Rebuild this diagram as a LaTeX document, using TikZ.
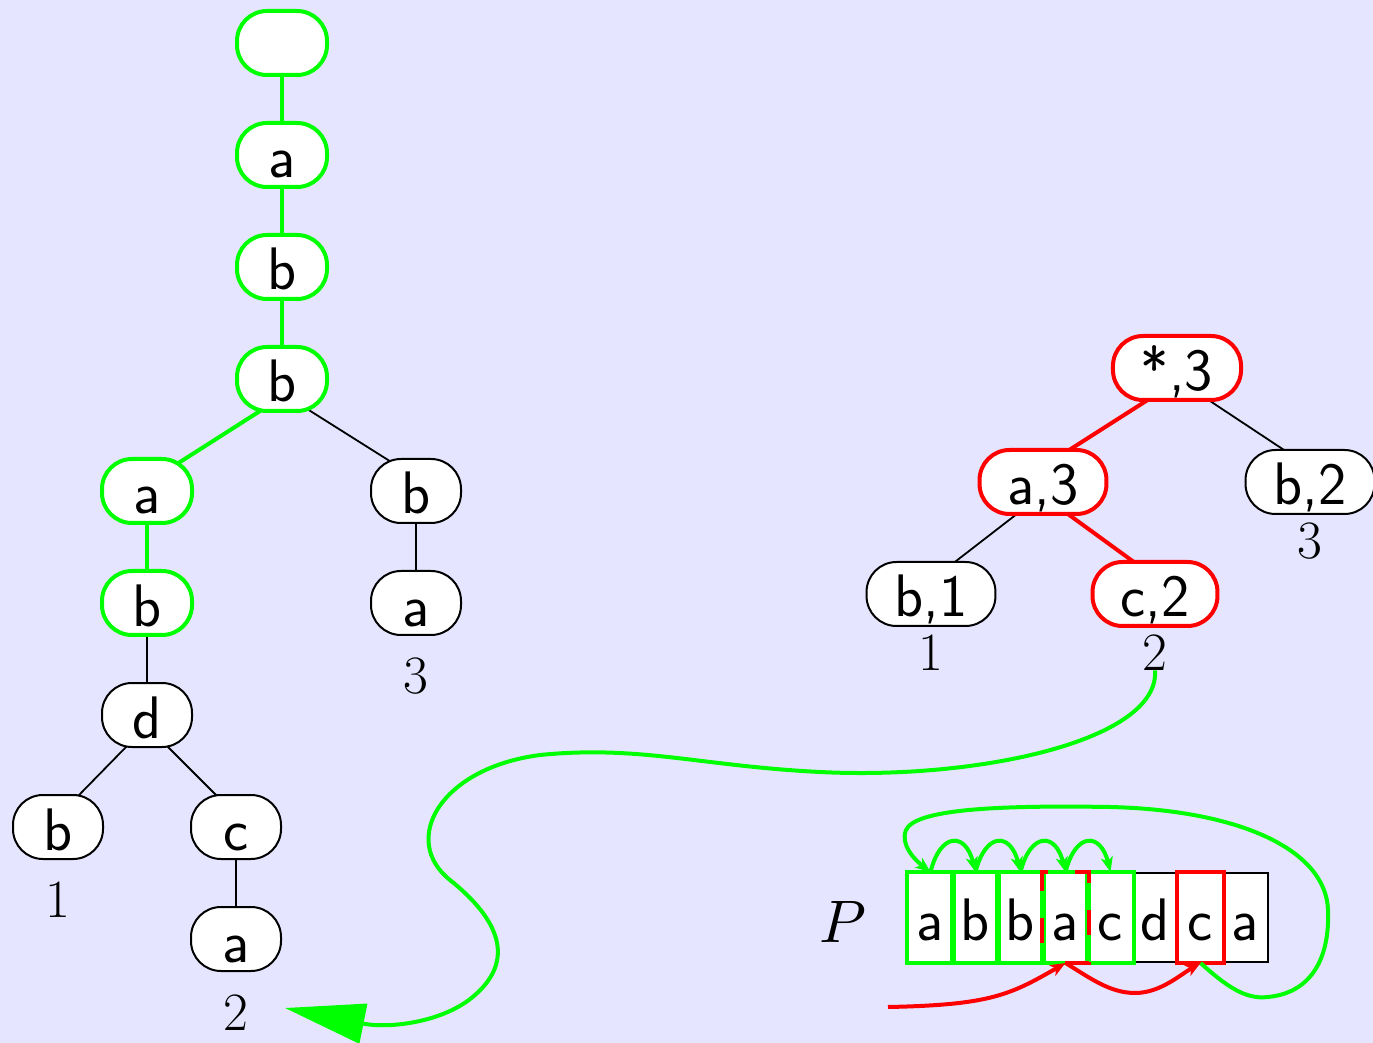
\documentclass[tikz,border=0pt]{standalone}
\usetikzlibrary{arrows.meta,calc}
\definecolor{bgc}{RGB}{229,229,255}
\definecolor{gr}{RGB}{0,255,0}
\definecolor{rd}{RGB}{255,0,0}
\pgfdeclarelayer{bgl}
\pgfdeclarelayer{edg}
\pgfsetlayers{bgl,edg,main}
\tikzset{
  tn/.style={draw=black, line width=1pt, fill=white, rectangle, rounded corners=15pt,
    minimum width=45pt, minimum height=32pt, inner xsep=14pt, inner ysep=0pt,
    text height=23pt, text depth=0pt, font=\sffamily\fontsize{30}{36}\selectfont},
  gn/.style={tn, draw=gr, line width=2pt},
  rn/.style={tn, draw=rd, line width=2pt},
  lab/.style={anchor=base, inner sep=0pt, font=\rmfamily\fontsize{27}{32}\selectfont},
  cell/.style={draw=black, line width=1pt, fill=white, minimum width=22.5pt,
    minimum height=44.5pt, inner sep=0pt, text height=23pt, text depth=0pt,
    font=\sffamily\fontsize{30}{36}\selectfont},
  bedge/.style={draw=black, line width=0.9pt},
  gedge/.style={draw=gr, line width=2pt},
  redge/.style={draw=rd, line width=2pt},
  sarr/.style={-{Stealth[length=7.5pt,width=6pt,inset=2pt]}},
}
\begin{document}
\begin{tikzpicture}[x=0.5pt,y=-0.5pt]
\begin{pgfonlayer}{bgl}
\fill[bgc] (0,0) rectangle (1373,1043);
\end{pgfonlayer}
\useasboundingbox (0,0) rectangle (1373,1043);

% left tree
\node[gn] (r)  at (282,43)  {};
\node[gn] (a1) at (282,155) {a};
\node[gn] (b1) at (282,267) {b};
\node[gn] (b2) at (282,379) {b};
\node[gn] (a2) at (147,491) {a};
\node[tn] (br) at (416,491) {b};
\node[gn] (b3) at (147,603) {b};
\node[tn] (ar) at (416,603) {a};
\node[tn] (d)  at (147,715) {d};
\node[tn] (lb) at (58,827)  {b};
\node[tn] (c)  at (236,827) {c};
\node[tn] (ca) at (236,939) {a};
\node[lab] (l3) at (416,693)  {3};
\node[lab] (l1) at (58,917)   {1};
\node[lab] (l2) at (236,1030) {2};

% right tree
\node[rn] (s3)  at (1177,368) {*,3};
\node[rn] (a3)  at (1043,482) {a,3};
\node[tn] (b2r) at (1310,482) {b,2};
\node[tn] (b1r) at (931,594)  {b,1};
\node[rn] (c2)  at (1155,594) {c,2};
\node[lab] (rl3) at (1310,559) {3};
\node[lab] (rl1) at (931,670)  {1};
\node[lab] (rl2) at (1155,670) {2};

\begin{pgfonlayer}{edg}
\draw[gedge] (r) -- (a1);
\draw[gedge] (a1) -- (b1);
\draw[gedge] (b1) -- (b2);
\draw[gedge] ($(b2)+(-16.6,28.6)$) -- ($(a2)+(24.6,-23.6)$);
\draw[gedge] (a2) -- (b3);
\draw[bedge] ($(b2)+(21.5,27.7)$) -- ($(br)+(-19.5,-25.7)$);
\draw[bedge] (br) -- (ar);
\draw[bedge] (b3) -- (d);
\draw[bedge] ($(d)+(-15,25.9)$) -- ($(lb)+(15,-25.8)$);
\draw[bedge] ($(d)+(14.9,25.9)$) -- ($(c)+(-13.9,-25.9)$);
\draw[bedge] (c) -- (ca);
\draw[redge] ($(s3)+(-25.6,29.6)$) -- ($(a3)+(25.6,-31.6)$);
\draw[bedge] ($(s3)+(27.7,29.5)$) -- ($(b2r)+(-23.7,-30.5)$);
\draw[bedge] ($(a3)+(-22.1,28.9)$) -- ($(b1r)+(21.1,-29.9)$);
\draw[redge] ($(a3)+(20.9,29.1)$) -- ($(c2)+(-19.9,-31.1)$);
\end{pgfonlayer}

% pattern P
\node[anchor=base, inner sep=0pt, scale=3] (P) at (843,942) {$P$};
\foreach \t [count=\i] in {a,b,b,a,c,d,c,a}
  \node[cell] (p\i) at ({930.5+45*(\i-1)},917.5) {\t};
\foreach \i in {1,...,5}
  \draw[gr, line width=2pt] (p\i.south west) rectangle (p\i.north east);
\draw[rd, line width=2pt] (p7.south west) rectangle (p7.north east);
\draw[rd, line width=2pt, dash pattern=on 12.5pt off 13.5pt, dash phase=16pt]
  (p4.south west) rectangle (p4.north east);

% small green arcs
\foreach \i/\j in {1/2,2/3,3/4,4/5}
  \draw[gedge, sarr] (p\i.north) .. controls +(10,-40) and +(-10,-40) .. (p\j.north);

% big green loop
\draw[gedge, sarr] (p7.south) .. controls (1225,985) and (1245,1000) .. (1268,997)
  .. controls (1310,993) and (1330,960) .. (1328,910)
  .. controls (1326,850) and (1240,810) .. (1110,807)
  .. controls (990,805) and (915,810) .. (906,830)
  .. controls (900,845) and (915,860) .. (p1.north);

% red arrows
\coordinate (rs) at (888,1007);
\draw[redge, sarr] (rs) .. controls (990,1005) and (1010,995) .. (p4.south);
\draw[redge, sarr] (p4.south) .. controls (1090,978) and (1110,993) .. (1135,993)
  .. controls (1160,993) and (1180,975) .. (p7.south);

% long green curve
\draw[gedge, -{Triangle[length=40pt,width=20pt]}] (rl2.south)
  .. controls (1160,740) and (980,780) .. (820,772)
  .. controls (700,766) and (640,745) .. (540,755)
  .. controls (440,768) and (400,840) .. (450,880)
  .. controls (500,920) and (515,960) .. (475,995)
  .. controls (445,1022) and (390,1029) .. (285,1008);
\end{tikzpicture}
\end{document}
